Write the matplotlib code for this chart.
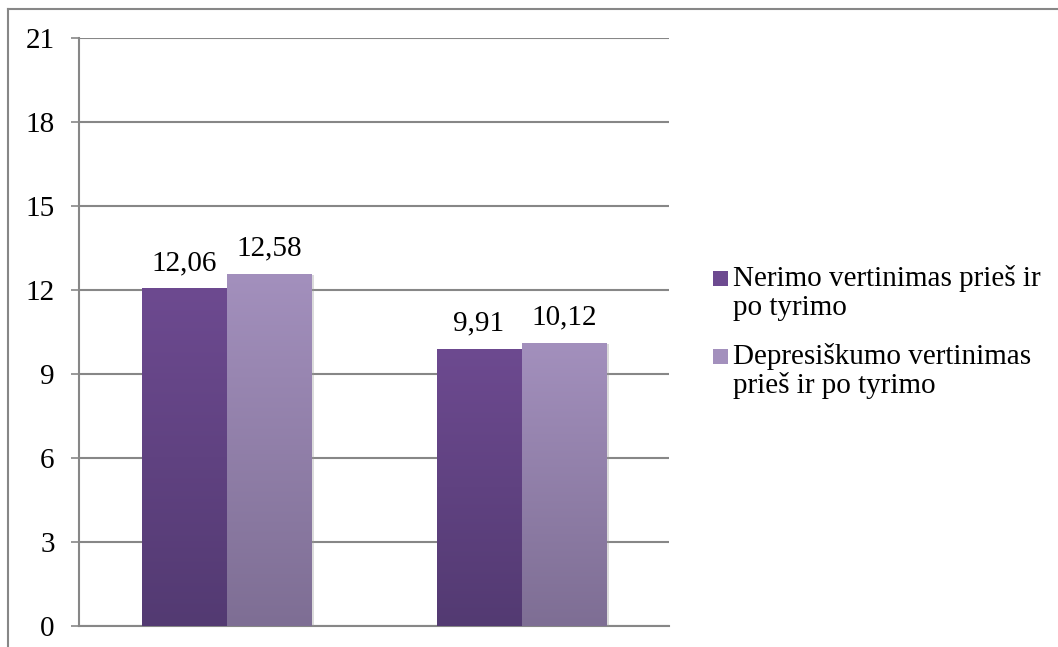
import matplotlib.pyplot as plt
import numpy as np
from matplotlib import patheffects
from matplotlib.colors import LinearSegmentedColormap
from matplotlib.lines import Line2D
from matplotlib.patches import Rectangle

plt.rcParams['font.family'] = ['Liberation Serif', 'DejaVu Serif']
plt.rcParams['font.size'] = 21

# duomenys
nerimas = [12.06, 9.91]
depresiskumas = [12.58, 10.12]
series_names = ['Nerimo vertinimas prieš ir po tyrimo',
                'Depresiškumo vertinimas prieš ir po tyrimo']
legend_lines = [['Nerimo vertinimas prieš ir', 'po tyrimo'],
                ['Depresiškumo vertinimas', 'prieš ir po tyrimo']]
y_ticks = [0, 3, 6, 9, 12, 15, 18, 21]

# (viršus, apačia) gradientui
dark = ('#6d4a90', '#533a72')
light = ('#a390bd', '#7e6e94')
grid_color = '#878787'

W, H = 1058, 647
fig = plt.figure(figsize=(W / 100, H / 100), dpi=100)
ax = fig.add_axes([79 / W, 1 - 626 / H, (669 - 79) / W, (626 - 38) / H])

x = np.arange(len(nerimas))
width = 0.288


def gradient_fill(ax, rect, colors):
    top, bottom = colors
    cmap = LinearSegmentedColormap.from_list('grad', [bottom, top])
    x0, y0 = rect.get_x(), rect.get_y()
    w, h = rect.get_width(), rect.get_height()
    grad = np.linspace(0, 1, 256).reshape(-1, 1)
    im = ax.imshow(grad, cmap=cmap, origin='lower', aspect='auto',
                   extent=(x0, x0 + w, y0, y0 + h),
                   interpolation='bicubic', zorder=rect.get_zorder() + 0.1)
    im.set_clip_path(rect)


shadow = [patheffects.SimplePatchShadow(offset=(2, -1), shadow_rgbFace='#9a9a9a', alpha=0.35),
          patheffects.Normal()]

for vals, offs, cols in [(nerimas, -width / 2, dark), (depresiskumas, width / 2, light)]:
    bars = ax.bar(x + offs, vals, width, color=cols[1], zorder=3, linewidth=0)
    for b, v in zip(bars, vals):
        b.set_path_effects(shadow)
        gradient_fill(ax, b, cols)
        ax.annotate(f'{v:.2f}'.replace('.', ','), (b.get_x() + b.get_width() / 2, v),
                    xytext=(0, 13), textcoords='offset points',
                    ha='center', va='baseline', fontsize=21)

ax.set_xlim(-0.5, len(x) - 0.5)
ax.set_ylim(0, 21)
ax.set_yticks(y_ticks)
ax.set_xticks([])
ax.yaxis.grid(True, color=grid_color, linewidth=1.5)
ax.set_axisbelow(True)
ax.tick_params(axis='y', length=6, width=1.2, color=grid_color, pad=11.5, labelsize=21)
for side in ['top', 'right']:
    ax.spines[side].set_visible(False)
for side in ['left', 'bottom']:
    ax.spines[side].set_color(grid_color)
    ax.spines[side].set_linewidth(1.5)

# legenda
baselines = [[286, 315], [364, 393]]
for cols, lines, ys in zip([dark, light], legend_lines, baselines):
    fig.patches.append(Rectangle((713 / W, 1 - ys[0] / H), 15 / W, 15 / H,
                                 transform=fig.transFigure, facecolor=cols[0],
                                 edgecolor='none'))
    for line, yb in zip(lines, ys):
        fig.text(733 / W, 1 - yb / H, line, ha='left', va='baseline', fontsize=21)

# rėmelis
fig.add_artist(Line2D([8 / W, 1], [1 - 9 / H, 1 - 9 / H], color=grid_color, linewidth=1.5))
fig.add_artist(Line2D([8 / W, 8 / W], [0, 1 - 9 / H], color=grid_color, linewidth=1.5))

fig.savefig('out.png', dpi=100)
